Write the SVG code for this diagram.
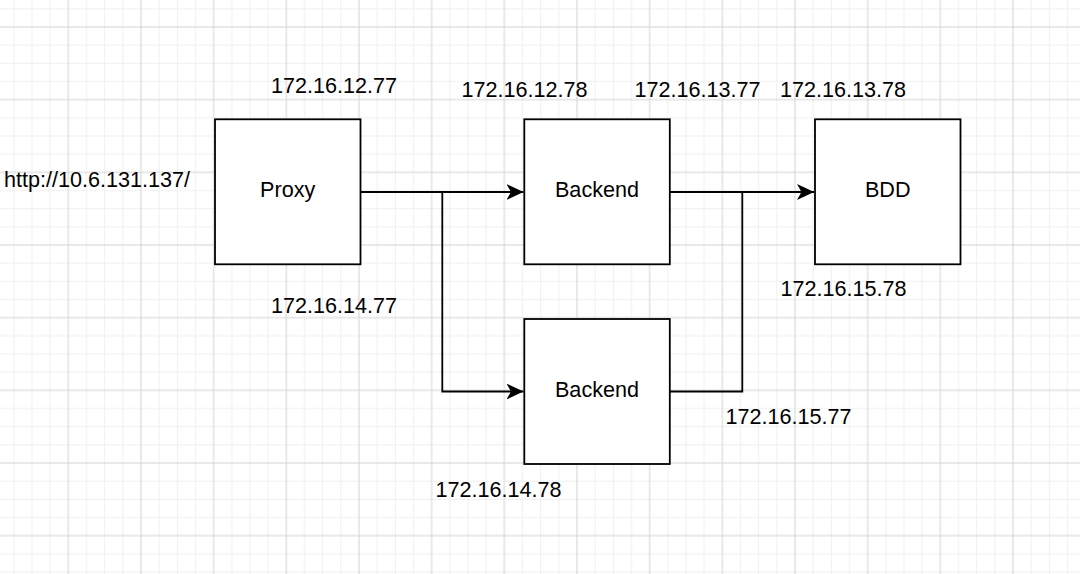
<svg xmlns="http://www.w3.org/2000/svg" width="1080" height="574" viewBox="0 0 1080 574">
  <style>
    .box { fill: #ffffff; stroke: #000000; stroke-width: 1.8; }
    .edge { fill: none; stroke: #000000; stroke-width: 1.8; }
    .lbl { font-family: "Liberation Sans", Arial, Helvetica, sans-serif; font-size: 21.6px; fill: #000000; }
    .mid { text-anchor: middle; }
  </style>
  <defs>
    <pattern id="grid" patternUnits="userSpaceOnUse" x="67.33" y="26" width="72.667" height="72.667">
      <path d="M19.17 0V72.667M37.33 0V72.667M55.5 0V72.667M0 19.17H72.667M0 37.33H72.667M0 55.5H72.667" stroke="#efefef" stroke-width="1" fill="none"/>
      <path d="M1 0V72.667M0 1H72.667" stroke="#d4d4d4" stroke-width="1" fill="none"/>
    </pattern>
    <marker id="arrow" viewBox="0 0 17 16" refX="17" refY="8" markerWidth="17" markerHeight="16" markerUnits="userSpaceOnUse" orient="auto">
      <path d="M17 8L0 0L4.5 8L0 16Z" fill="#000000"/>
    </marker>
  </defs>
  <rect x="0" y="0" width="1080" height="574" fill="#ffffff"/>
  <rect x="0" y="0" width="1080" height="574" fill="url(#grid)"/>

  <g id="connectors">
    <path class="edge" d="M360.5 192H523.5" marker-end="url(#arrow)"/>
    <path class="edge" d="M442.3 192V391.5H523.5" marker-end="url(#arrow)"/>
    <path class="edge" d="M669.8 192H814" marker-end="url(#arrow)"/>
    <path class="edge" d="M669.8 391.5H742.3V192"/>
  </g>

  <g id="proxy">
    <rect class="box" x="215" y="119.3" width="145.5" height="145"/>
    <text class="lbl mid" x="287.7" y="197">Proxy</text>
  </g>
  <g id="backend1">
    <rect class="box" x="524.3" y="119.3" width="145.5" height="145"/>
    <text class="lbl mid" x="597" y="197">Backend</text>
  </g>
  <g id="backend2">
    <rect class="box" x="524.3" y="319" width="145.5" height="145"/>
    <text class="lbl mid" x="597" y="397">Backend</text>
  </g>
  <g id="bdd">
    <rect class="box" x="815" y="119.3" width="145.5" height="145"/>
    <text class="lbl mid" x="887.7" y="197">BDD</text>
  </g>

  <g id="labels">
    <text class="lbl" x="4" y="186.7">http://10.6.131.137/</text>
    <text class="lbl" x="271" y="92.7">172.16.12.77</text>
    <text class="lbl" x="461.5" y="96.7">172.16.12.78</text>
    <text class="lbl" x="634.5" y="96.7">172.16.13.77</text>
    <text class="lbl" x="780" y="96.7">172.16.13.78</text>
    <text class="lbl" x="271" y="313.3">172.16.14.77</text>
    <text class="lbl" x="780.5" y="296">172.16.15.78</text>
    <text class="lbl" x="725.5" y="424">172.16.15.77</text>
    <text class="lbl" x="435.5" y="496.7">172.16.14.78</text>
  </g>
</svg>
